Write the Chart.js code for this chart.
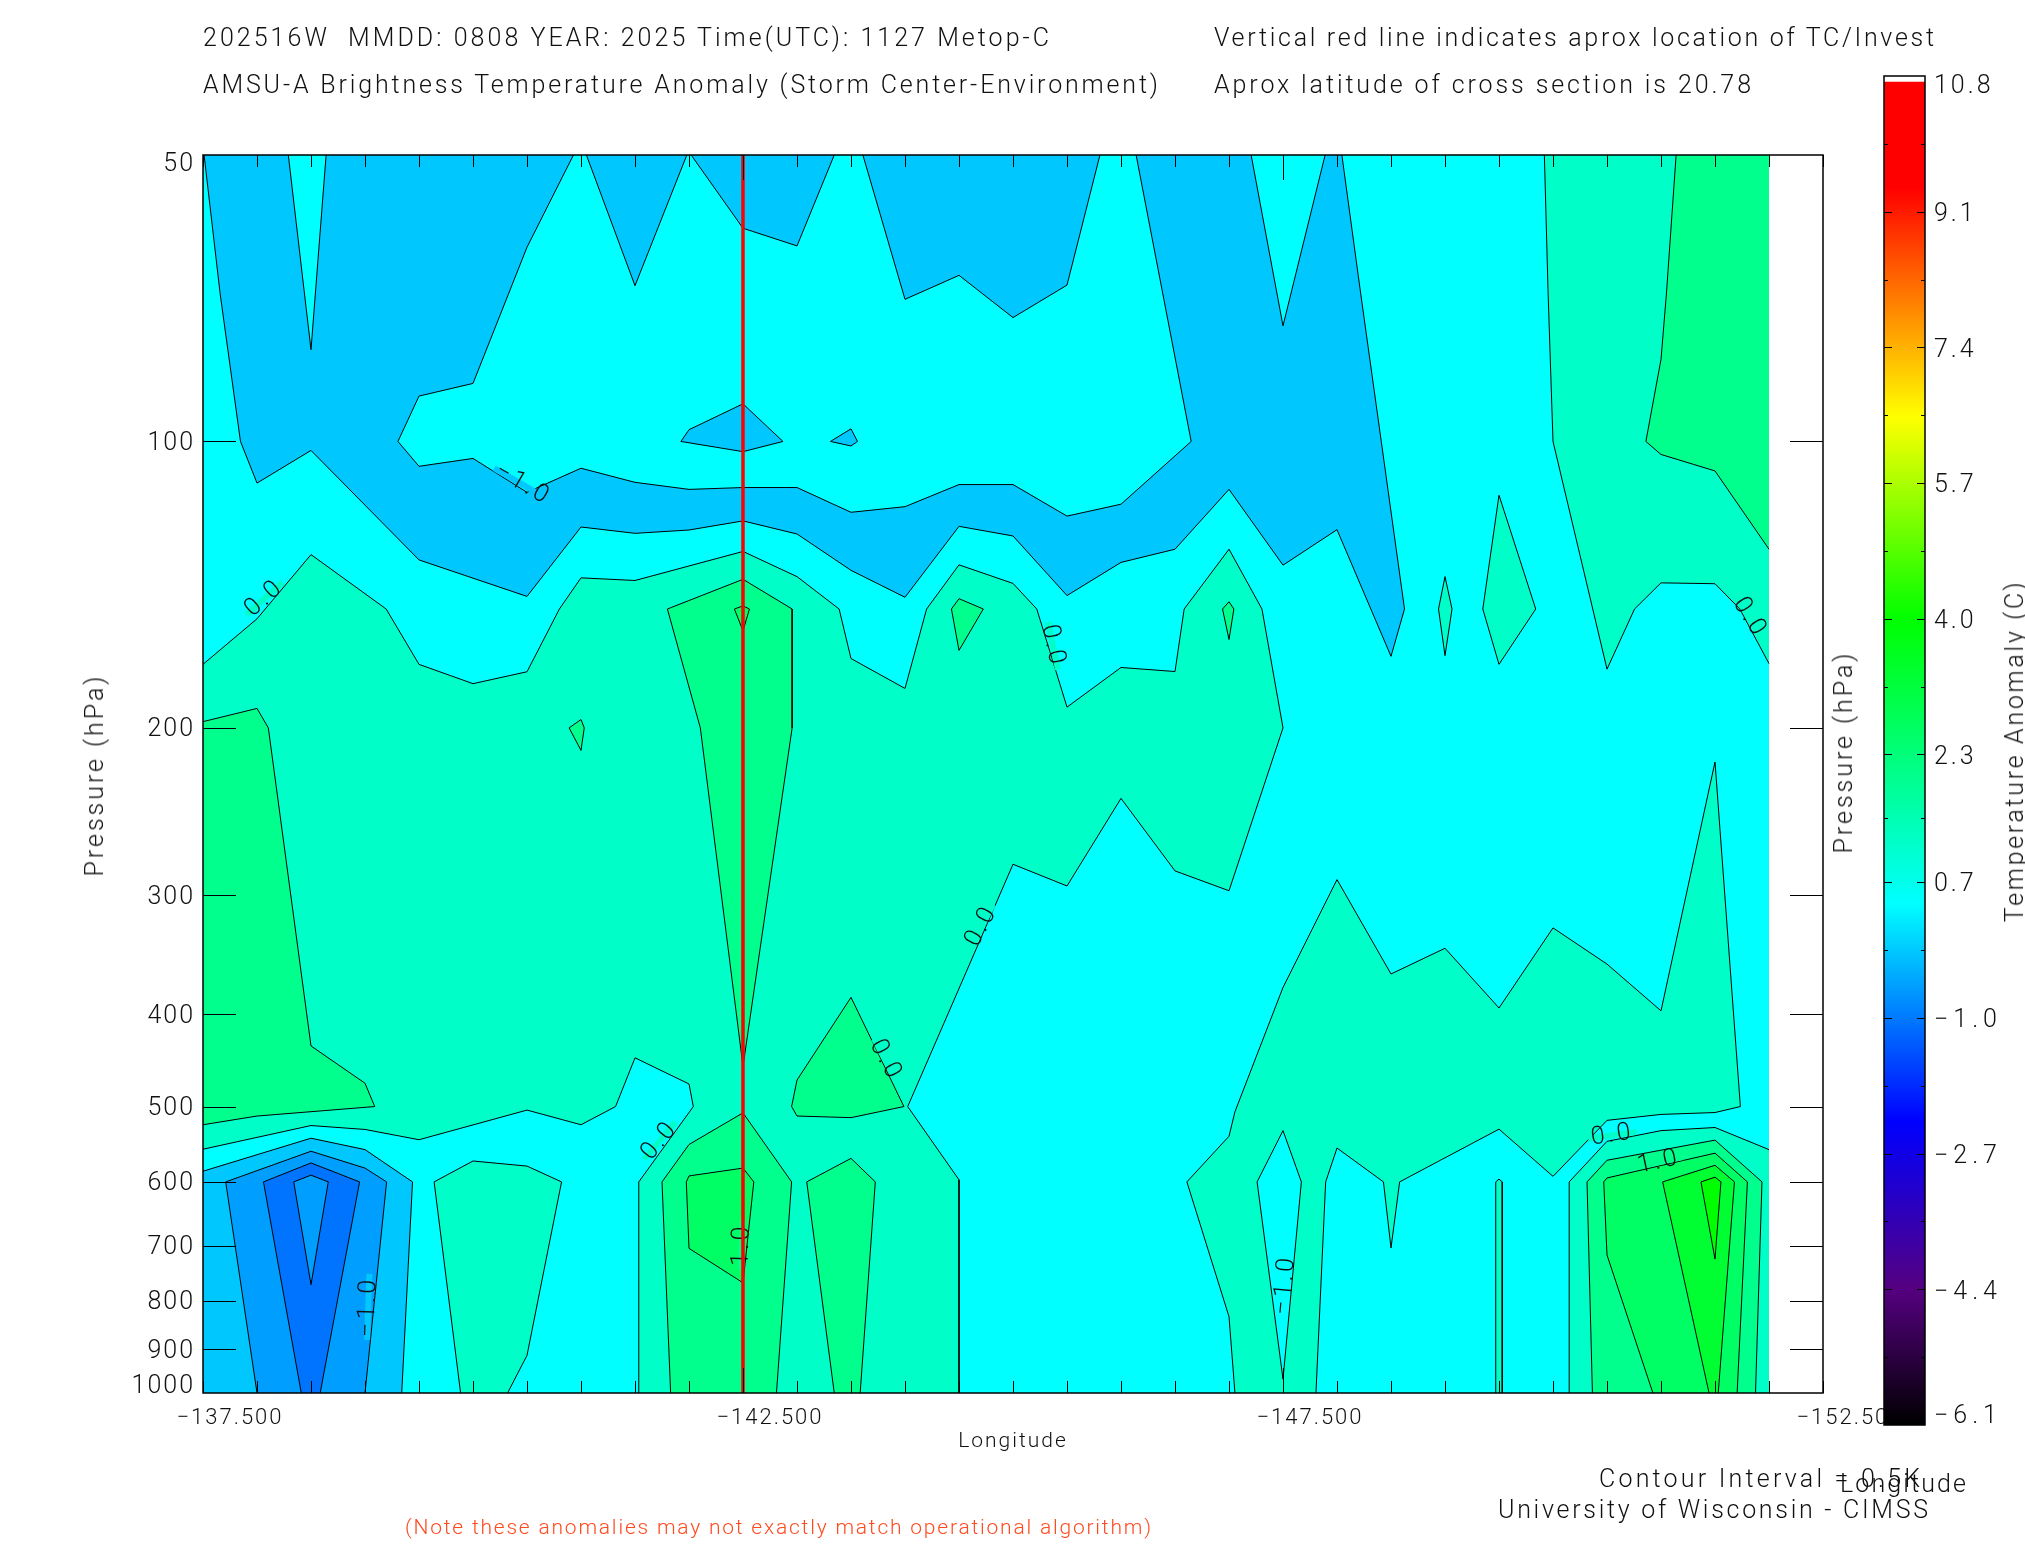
<!DOCTYPE html>
<html>
<head>
<meta charset="utf-8">
<title>AMSU-A Brightness Temperature Anomaly</title>
<script src="https://cdn.jsdelivr.net/npm/chart.js@4"></script>
<style>
  html, body { margin: 0; padding: 0; background: #fff; }
  #page { position: relative; width: 2025px; height: 1550px; overflow: hidden; }
  canvas { position: absolute; top: 0; }
  #main { left: 0; }
  #bar { left: 1860px; }
  .t { position: absolute; white-space: pre; font: 300 25px/30px Roboto, sans-serif; color: #111; }
  .v { transform: translate(-50%, -50%) rotate(-90deg); }
</style>
</head>
<body>
<div id="page">
  <canvas id="main" width="2025" height="1550"></canvas>
  <canvas id="bar" width="165" height="1550"></canvas>
  <div class="t" data-w="846" style="left:203px;top:23px">202516W  MMDD: 0808 YEAR: 2025 Time(UTC): 1127 Metop-C</div>
  <div class="t" data-w="955" style="left:203px;top:70px">AMSU-A Brightness Temperature Anomaly (Storm Center-Environment)</div>
  <div class="t" data-w="720" style="left:1214px;top:23px">Vertical red line indicates aprox location of TC/Invest</div>
  <div class="t" data-w="537" style="left:1214px;top:70px">Aprox latitude of cross section is 20.78</div>
  <div class="t v" data-w="200" style="left:95px;top:775px">Pressure (hPa)</div>
  <div class="t v" data-w="200" style="left:1844px;top:752px">Pressure (hPa)</div>
  <div class="t v" data-w="340" style="left:2015px;top:751px">Temperature Anomaly (C)</div>
  <div class="t" data-w="321" style="left:1599px;top:1464px">Contour Interval = 0.5K</div>
  <div class="t" data-w="126" style="left:1840px;top:1469px">Longitude</div>
  <div class="t" data-w="430" style="left:1498px;top:1495px">University of Wisconsin - CIMSS</div>
  <div class="t" data-w="746" style="left:405px;top:1512px;font-size:21px;color:#ff4a20">(Note these anomalies may not exactly match operational algorithm)</div>
</div>
<script>
// contour outlines, each point is [longitude, pressure hPa]
const wholeDomain = [[-137.5,50],[-152,50],[-152,1000],[-137.5,1000]];

const skyTop = [[-137.51,50],[-137.659,70],[-137.847,100],[-138,110.6],[-138.5,102.2],[-139.5,133.2],[-140.5,145.5],[-141,123],[-141.5,124.9],[-142,123.9],[-142.5,121.2],[-143,125.1],[-143.5,136.6],[-144,145.8],[-144.5,122.8],[-145,125.7],[-145.5,145.2],[-146,134],[-146.5,129.8],[-147,112.3],[-147.5,134.9],[-148,123.8],[-148.5,168.2],[-148.625,150],[-148.41,100],[-148.22,70],[-148.045,50]];
const cyanSpike = [[-138.29,50],[-138.5,80.1],[-138.64,50]];
const cyanCentre = [[-139.305,100],[-139.5,89.6],[-140,86.9],[-140.5,62.5],[-140.93,50],[-141.05,50],[-141.5,68.6],[-141.98,50],[-142.02,50],[-142.5,59.7],[-143,62.3],[-143.345,50],[-143.61,50],[-144,70.9],[-144.5,66.9],[-145,74.1],[-145.5,68.5],[-145.805,50],[-146.14,50],[-146.65,100],[-146,116.4],[-145.5,119.8],[-145,111],[-144.5,111],[-144,117.1],[-143.5,118.7],[-143,111.8],[-142.5,111.8],[-142,112.3],[-141.5,110.4],[-141,106.7],[-140.5,113.1],[-140,104.2],[-139.5,106.2]];
const skyIslandA = [[-141.925,100],[-142,97.2],[-142.5,91.3],[-142.87,100],[-142.5,102.5]];
const skyIslandB = [[-143.31,100],[-143.5,97],[-143.56,100],[-143.5,101.1]];
const cyanWedge = [[-147.205,50],[-147.5,75.6],[-147.89,50]];
const skyLow = [[-137.5,584.7],[-138.5,539.8],[-139,554.9],[-139.44,600],[-139.34,1000],[-137.5,1000]];
const midBlueLow = [[-137.71,600],[-138.5,557.1],[-139,580.3],[-139.2,600],[-139,1000],[-138,1000]];
const deepBlueLow = [[-138.06,600],[-138.5,573.1],[-138.95,600],[-138.585,1000],[-138.41,1000]];
const midBlueCore = [[-138.34,600],[-138.5,590.3],[-138.66,600],[-138.5,769.5]];

const warmMain = [[-137.5,171.5],[-138,153.6],[-138.5,131.5],[-139.196,150],[-139.5,171.5],[-140,179.7],[-140.5,174.6],[-140.8,150],[-141,139.1],[-141.5,140],[-142.5,130.5],[-143,138.7],[-143.39,150],[-143.5,169.1],[-144,181.8],[-144.2,150],[-144.5,134.8],[-145,141],[-145.22,150],[-145.5,190.2],[-146,172.8],[-146.5,174.5],[-146.585,150],[-147,129.8],[-147.305,150],[-147.5,200],[-147,296.6],[-146.5,282.7],[-146,237.2],[-145.5,293.2],[-145,278.2],[-144.025,500],[-144.5,597],[-144.5,1000],[-141.535,1000],[-141.535,600],[-142.04,500],[-142,473.4],[-141.5,444.4],[-141.32,500],[-141,522.5],[-140.5,504.3],[-139.5,541.8],[-139,528.5],[-138.5,523.5],[-137.5,554.4]];
const warmIslandLow = [[-139.64,600],[-140,570.4],[-140.5,577.5],[-140.82,600],[-140.5,913],[-140.32,1000],[-139.885,1000]];
const warmEast = [[-147.055,1000],[-147,831.3],[-146.61,600],[-147,537.2],[-147.055,506.3],[-147.5,374.8],[-148,288.7],[-148.5,362.8],[-149,340.9],[-149.5,393.9],[-150,324.5],[-150.5,354.2],[-151,396.6],[-151.5,217.2],[-151.735,500],[-151.5,507.3],[-151,509.6],[-150.5,517],[-150,592],[-149.5,528.1],[-148.58,600],[-148.5,704],[-148.43,600],[-148,552.8],[-147.895,600],[-147.805,1000]];
const cyanIsland = [[-147.5,530],[-147.67,600],[-147.5,967],[-147.26,600]];
const warmStrip = [[-149.47,1000],[-149.47,600],[-149.5,596],[-149.53,600],[-149.53,1000]];
const warmCornerLow = [[-150.15,1000],[-150.15,600],[-150.5,543.9],[-151,530],[-151.5,526],[-152,554.9],[-152,1000]];
const warmTopRight = [[-149.92,50],[-149.955,70],[-150,100],[-150.5,173.5],[-150.755,150],[-151,140.8],[-151.5,141.1],[-151.73,150],[-152,171.2],[-152,50]];
const warmDiamondA = [[-149,138.7],[-149.065,150],[-149,167.9],[-148.94,150]];
const warmDiamondB = [[-149.5,113.9],[-149.84,150],[-149.5,171.5],[-149.35,150]];

const mintTopRight = [[-151.14,50],[-151.05,70],[-151,82],[-150.86,100],[-151,103.2],[-151.5,107.4],[-152,129.8],[-152,50]];
const mintWest = [[-137.5,197],[-138,190.8],[-138.105,200],[-138.5,431.8],[-139,472.6],[-139.09,500],[-138,511.6],[-137.5,522.5]];
const mintCentre = [[-141.8,150],[-142.5,139.6],[-142.955,150],[-142.955,200],[-142.5,453.8],[-142.105,200]];
const mintDotA = [[-140.89,200],[-141,196],[-141.03,200],[-141,211.2]];
const mintDotB = [[-144.43,150],[-144.5,146.3],[-144.725,150],[-144.5,165.8]];
const mintDotC = [[-146.94,150],[-147,147.4],[-147.045,150],[-147,161.5]];
const mintTriangle = [[-143.5,383.9],[-143.99,500],[-143.5,513.6],[-143,511.6],[-142.95,500],[-143,469]];
const mintPillar = [[-143.5,566.8],[-143.725,600],[-143.585,1000],[-143.345,1000],[-143.09,600]];
const mintLowCentre = [[-141.75,600],[-142,548.1],[-142.5,507.7],[-142.95,600],[-142.81,1000],[-141.83,1000]];
const mintCorner = [[-150.315,600],[-150.5,569.4],[-151.5,542.3],[-151.935,600],[-151.875,1000],[-150.365,1000]];

const greenCap = [[-142.42,150],[-142.5,148.9],[-142.56,150],[-142.5,158.1]];
const greenLowCentre = [[-141.975,600],[-142,591.4],[-142.5,580.3],[-142.6,600],[-142.5,765.9],[-142,704.7]];
const greenCorner = [[-150.47,600],[-150.5,594.3],[-151.5,559.7],[-151.8,600],[-151.705,1000],[-150.925,1000],[-150.5,716.2]];
const brightCorner = [[-151.015,600],[-151.5,576.4],[-151.68,600],[-151.53,1000],[-151.445,1000]];
const limeCorner = [[-151.37,600],[-151.5,593.2],[-151.555,600],[-151.5,723.2]];

const stormLon = [-142.5, -142.5];
const stormPressure = [50, 1000];

const pressureTicks = [50,100,200,300,400,500,600,700,800,900,1000];
const lonLabelled = [-137.5,-142.5,-147.5,-152.5];
const lonTicks = [-137.5,-138,-138.5,-139,-139.5,-140,-140.5,-141,-141.5,-142,-142.5,-143,-143.5,-144,-144.5,-145,-145.5,-146,-146.5,-147,-147.5,-148,-148.5,-149,-149.5,-150,-150.5,-151,-151.5,-152,-152.5];

const contourLabelText = ["−1.0","0.0","0.0","0.0","0.0","0.0","0.0","−1.0","1.0","−1.0","0.0","1.0"];
const contourLabelLon = [-140.46,-138.07,-145.37,-151.82,-144.71,-143.82,-141.73,-139.03,-142.49,-147.52,-150.55,-150.98];
const contourLabelP = [111,146.2,164,153.2,323,447,543,812,699,770,536,572];
const contourLabelTilt = [30,-42,78,58,-62,62,-50,-88,-88,-85,-8,-12];

const colorbarLabels = [10.8,9.1,7.4,5.7,4.0,2.3,0.7,-1.0,-2.7,-4.4,-6.1];
const colorbarTicks = [9.95,8.25,6.55,4.85,3.15,1.5,-0.15,-1.85,-3.55,-5.25];
const colorbarStops = [[-6.1,"#000000"],[-4.4,"#550080"],[-2.3,"#0000ff"],[0.43,"#00ffff"],[4.0,"#00ff00"],[6.53,"#ffff00"],[9.4,"#ff0000"],[10.725,"#ff0000"]];

const band = { sky:"#00c8ff", midBlue:"#009fff", deepBlue:"#0073ff", cyan:"#00ffff", warm:"#00ffc8", mint:"#00ff8c", green:"#00ff64", bright:"#00ff32", lime:"#00ff00" };

const paintOrder = [
  [wholeDomain,band.cyan],[skyTop,band.sky],[cyanSpike,band.cyan],[cyanCentre,band.cyan],[skyIslandA,band.sky],[skyIslandB,band.sky],[cyanWedge,band.cyan],
  [skyLow,band.sky],[midBlueLow,band.midBlue],[deepBlueLow,band.deepBlue],[midBlueCore,band.midBlue],
  [warmMain,band.warm],[warmIslandLow,band.warm],[warmEast,band.warm],[cyanIsland,band.cyan],[warmStrip,band.warm],[warmCornerLow,band.warm],[warmTopRight,band.warm],[warmDiamondA,band.warm],[warmDiamondB,band.warm],
  [mintTopRight,band.mint],[mintWest,band.mint],[mintCentre,band.mint],[mintDotA,band.mint],[mintDotB,band.mint],[mintDotC,band.mint],[mintTriangle,band.mint],[mintPillar,band.mint],[mintLowCentre,band.mint],[mintCorner,band.mint],
  [greenCap,band.green],[greenLowCentre,band.green],[greenCorner,band.green],[brightCorner,band.bright],[limeCorner,band.lime]
];
const labelBands = [band.sky,band.warm,band.warm,band.warm,band.warm,band.warm,band.warm,band.sky,band.mint,band.cyan,band.warm,band.mint];

const TEXT_FONT = "300 25px Roboto, sans-serif";

// the frame of the domain carries no contour line
function onFrame(a, b) {
  if (a.y === b.y && (a.y === 50 || a.y === 1000)) return true;
  return a.x === b.x && (a.x === -137.5 || a.x === -152);
}

const datasets = [];
paintOrder.forEach(([ring, color], i) => {
  const pts = ring.concat([ring[0]]).map(p => ({ x: p[0], y: p[1] }));
  datasets.push({ data: pts, showLine: true, pointRadius: 0, fill: "shape", backgroundColor: color, borderColor: "rgba(0,0,0,0)", borderWidth: 0, order: -2 * i });
  datasets.push({
    data: pts, showLine: true, pointRadius: 0, fill: false, backgroundColor: "rgba(0,0,0,0)", borderColor: "#000", borderWidth: 1, order: -2 * i - 1,
    segment: { borderColor: ctx => onFrame(ctx.p0.parsed, ctx.p1.parsed) ? "rgba(0,0,0,0)" : "#000" }
  });
});
const stormIndex = datasets.length;
datasets.push({
  data: stormLon.map((lon, i) => ({ x: lon, y: stormPressure[i] })),
  showLine: true, pointRadius: 0, fill: false, borderColor: "#ff0000", borderWidth: 3.5, order: -9999
});

const contourLabels = {
  id: "contourLabels",
  beforeDraw(chart) {
    chart.ctx.letterSpacing = "2px";
  },
  beforeDatasetDraw(chart, args) {
    if (args.index !== stormIndex) return;
    const { ctx, scales } = chart;
    contourLabelText.forEach((txt, i) => {
      ctx.save();
      ctx.translate(scales.x.getPixelForValue(contourLabelLon[i]), scales.y.getPixelForValue(contourLabelP[i]));
      ctx.rotate(contourLabelTilt[i] * Math.PI / 180);
      ctx.font = "300 25px Roboto, sans-serif";
      ctx.letterSpacing = "3px";
      ctx.textAlign = "center";
      ctx.textBaseline = "middle";
      const w = ctx.measureText(txt).width + 6;
      ctx.fillStyle = labelBands[i];
      ctx.fillRect(-w / 2, -3, w, 6);
      ctx.fillStyle = "#111";
      ctx.fillText(txt, 0, 0);
      ctx.restore();
    });
  }
};

const mainFrame = {
  id: "mainFrame",
  afterDraw(chart) {
    const { ctx, chartArea: a, scales } = chart;
    ctx.save();
    ctx.strokeStyle = "#000";
    ctx.lineWidth = 1;
    lonTicks.forEach(v => {
      const x = Math.round(scales.x.getPixelForValue(v)) + 0.5;
      const len = (v === -142.5 || v === -147.5) ? 25 : 12;
      ctx.beginPath();
      ctx.moveTo(x, a.top); ctx.lineTo(x, a.top + len);
      ctx.moveTo(x, a.bottom); ctx.lineTo(x, a.bottom - len);
      ctx.stroke();
    });
    ctx.fillStyle = "#111";
    ctx.font = TEXT_FONT;
    ctx.letterSpacing = "2px";
    ctx.textAlign = "right";
    ctx.textBaseline = "middle";
    pressureTicks.forEach(v => {
      const y = scales.y.getPixelForValue(v);
      if (v !== 50 && v !== 1000) {
        const py = Math.round(y) + 0.5;
        ctx.beginPath();
        ctx.moveTo(a.left, py); ctx.lineTo(a.left + 33, py);
        ctx.moveTo(a.right, py); ctx.lineTo(a.right - 33, py);
        ctx.stroke();
      }
      // IDL pushes the two end labels inside the axis
      const shift = v === 50 ? 8 : v === 1000 ? -8 : 0;
      ctx.fillText(String(v), a.left - 8, y + shift + 2);
    });
    ctx.lineWidth = 1.5;
    ctx.strokeRect(a.left, a.top, a.right - a.left, a.bottom - a.top);
    ctx.restore();
  }
};

new Chart(document.getElementById("main"), {
  type: "scatter",
  data: { datasets },
  plugins: [contourLabels, mainFrame],
  options: {
    responsive: false,
    animation: false,
    events: [],
    layout: { padding: { top: 155, right: 202, left: 0, bottom: 0 } },
    plugins: { legend: { display: false }, tooltip: { enabled: false } },
    scales: {
      x: {
        type: "linear",
        reverse: true,
        min: -152.5,
        max: -137.5,
        afterBuildTicks: s => { s.ticks = lonTicks.map(v => ({ value: v })); },
        afterFit: s => { s.height = 157; },
        grid: { display: false, drawTicks: false },
        border: { display: false },
        ticks: {
          autoSkip: false,
          maxRotation: 0,
          padding: 12,
          labelOffset: 27,
          color: "#111",
          font: { family: "Roboto, sans-serif", size: 22, weight: "300" },
          callback: v => lonLabelled.includes(v) ? "−" + Math.abs(v).toFixed(3) : ""
        },
        title: {
          display: true,
          text: "Longitude",
          color: "#111",
          font: { family: "Roboto, sans-serif", size: 21, weight: "300" },
          padding: { top: 0, bottom: 96 }
        }
      },
      y: {
        type: "logarithmic",
        reverse: true,
        min: 50,
        max: 1000,
        afterBuildTicks: s => { s.ticks = pressureTicks.map(v => ({ value: v })); },
        afterFit: s => { s.width = 203; },
        grid: { display: false, drawTicks: false },
        border: { display: false },
        ticks: { display: false }
      }
    }
  }
});

const colorbarFrame = {
  id: "colorbarFrame",
  afterDraw(chart) {
    const { ctx, chartArea: a, scales } = chart;
    ctx.save();
    ctx.strokeStyle = "#000";
    ctx.lineWidth = 1;
    const tick = (v, len) => {
      const y = Math.round(scales.y.getPixelForValue(v)) + 0.5;
      ctx.beginPath();
      ctx.moveTo(a.left, y); ctx.lineTo(a.left + len, y);
      ctx.moveTo(a.right, y); ctx.lineTo(a.right - len, y);
      ctx.stroke();
    };
    colorbarTicks.forEach(v => tick(v, 4));
    colorbarLabels.forEach((v, i) => {
      if (i > 0 && i < colorbarLabels.length - 1) tick(v, 8);
      const shift = i === 0 ? 11 : i === colorbarLabels.length - 1 ? -8 : 3;
      ctx.fillStyle = "#111";
      ctx.font = TEXT_FONT;
      ctx.letterSpacing = v < 0 ? "5px" : "3px";
      ctx.textAlign = "left";
      ctx.textBaseline = "middle";
      ctx.fillText((v < 0 ? "−" : "") + Math.abs(v).toFixed(1), a.right + 9, scales.y.getPixelForValue(v) + shift);
    });
    ctx.lineWidth = 1.5;
    ctx.strokeRect(a.left, a.top, a.right - a.left, a.bottom - a.top);
    ctx.restore();
  }
};

new Chart(document.getElementById("bar"), {
  type: "bar",
  data: {
    labels: [""],
    datasets: [{
      data: [[colorbarStops[0][0], colorbarStops[colorbarStops.length - 1][0]]],
      barPercentage: 1,
      categoryPercentage: 1,
      backgroundColor: ctx => {
        const area = ctx.chart.chartArea;
        if (!area) return "#000";
        const y = ctx.chart.scales.y;
        const g = ctx.chart.ctx.createLinearGradient(0, y.getPixelForValue(-6.1), 0, y.getPixelForValue(10.725));
        colorbarStops.forEach(([v, c]) => g.addColorStop((v + 6.1) / 16.825, c));
        return g;
      }
    }]
  },
  plugins: [colorbarFrame],
  options: {
    responsive: false,
    animation: false,
    events: [],
    layout: { padding: { left: 24, top: 76, right: 0, bottom: 125 } },
    plugins: { legend: { display: false }, tooltip: { enabled: false } },
    scales: {
      x: { display: false },
      y: {
        position: "right",
        min: -6.1,
        max: 10.8,
        afterFit: s => { s.width = 100; },
        grid: { display: false, drawTicks: false },
        border: { display: false },
        ticks: { display: false }
      }
    }
  }
});

// stretch the letters to the widths of the stroke font in the reference
document.fonts.ready.then(() => {
  document.querySelectorAll(".t").forEach(el => {
    const n = el.textContent.length - 1;
    const box = el.getBoundingClientRect();
    const len = el.classList.contains("v") ? box.height : box.width;
    el.style.letterSpacing = ((+el.dataset.w - len) / n) + "px";
  });
});
</script>
</body>
</html>
